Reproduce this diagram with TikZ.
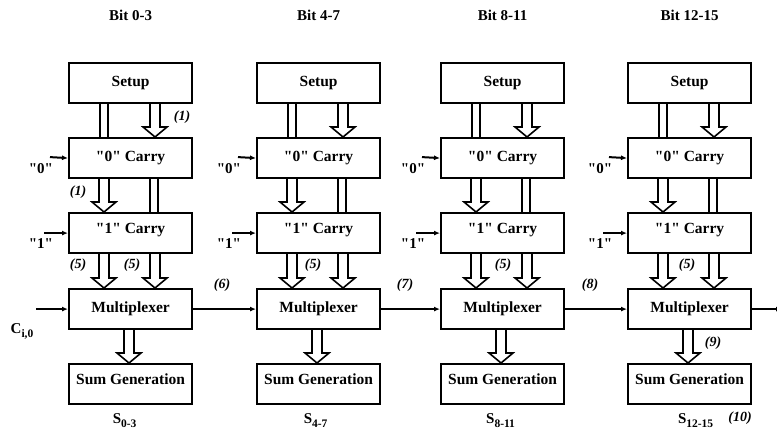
\documentclass[tikz,border=0pt]{standalone}
\usepackage{fontspec}
\setmainfont[Ligatures=TeXOff]{Liberation Serif}
\usetikzlibrary{calc,arrows.meta}
\newcommand\dq{\char34\relax}
\newcommand\mysub[1]{\raisebox{-4pt}{\fontsize{11.5}{12}\selectfont #1}}
\tikzset{
  blk/.style={draw, line width=2.2pt, minimum width=123pt, minimum height=40pt,
    inner sep=0pt, anchor=north west, font=\bfseries\fontsize{15.5}{18}\selectfont},
  upper/.style={text depth=9pt},
  lbl/.style={font=\bfseries\itshape\fontsize{14}{16}\selectfont, inner sep=0pt},
  ttl/.style={font=\bfseries\fontsize{15}{18}\selectfont, inner sep=0pt},
  busline/.style={line width=1.6pt, fill=white, line join=miter},
  barline/.style={line width=2pt},
  wire/.style={line width=1.4pt, -{Latex[length=6pt,width=5pt]}},
  inwire/.style={line width=2pt, -{Latex[length=6pt,width=5pt]}},
}
\newcommand\busarr[3]{%
  \draw[busline] let \p1=($(#1.south west)+(#3,0)$), \p2=($(#2.north west)+(#3,0)$) in
    (\x1-5pt,\y1) -- (\x1-5pt,\y2+10pt) -- (\x1-12pt,\y2+10pt) -- (\x1,\y2)
    -- (\x1+12pt,\y2+10pt) -- (\x1+5pt,\y2+10pt) -- (\x1+5pt,\y1);}
\newcommand\busbar[3]{%
  \draw[barline] let \p1=($(#1.south west)+(#3,0)$), \p2=($(#2.north west)+(#3,0)$) in
    (\x1-4pt,\y1) -- (\x1-4pt,\y2) (\x1+4pt,\y1) -- (\x1+4pt,\y2);}
\begin{document}
\begin{tikzpicture}[x=1pt,y=-1pt]
\useasboundingbox (0,0) rectangle (777,436);
\foreach \i/\lx/\bit/\sumlbl/\sdx in {1/68/0-3/0-3/-6,2/256/4-7/4-7/-3,3/440/8-11/8-11/-2,4/627/12-15/12-15/6}{
  \node[blk] (s\i) at (\lx,62) {Setup};
  \node[blk] (z\i) at (\lx,137) {\dq0\dq{} Carry};
  \node[blk,upper] (o\i) at (\lx,212) {\dq1\dq{} Carry};
  \node[blk] (m\i) at (\lx,288) {Multiplexer};
  \node[blk,upper] (g\i) at (\lx,363) {Sum Generation};
  \node[ttl] (t\i) at ($(s\i.north)+(0,-47)$) {Bit \bit};
  \node[ttl] (r\i) at ($(g\i.south)+(\sdx,15)$) {S\mysub{\sumlbl}};
  \busbar{s\i}{z\i}{36}
  \busarr{s\i}{z\i}{87}
  \busarr{z\i}{o\i}{36}
  \busbar{z\i}{o\i}{86}
  \busarr{o\i}{m\i}{36}
  \busarr{o\i}{m\i}{87}
  \busarr{m\i}{g\i}{61}
  \coordinate (zin\i) at ($(z\i.west)+(-18,-1)$);
  \coordinate (oin\i) at ($(o\i.west)+(-24,0)$);
  \node[ttl] (zt\i) at ($(z\i.west)+(-27,10)$) {\dq0\dq};
  \node[ttl] (ot\i) at ($(o\i.west)+(-27,10)$) {\dq1\dq};
  \draw[inwire] (zin\i) -- (z\i.west);
  \draw[inwire] (oin\i) -- (o\i.west);
}
% carry chain
\coordinate (cin) at ($(m1.west)+(-32,0)$);
\coordinate (cout) at ($(m4.east)+(30,0)$);
\node[ttl] (cil) at (22,331) {C\mysub{i,0}};
\draw[wire] (cin) -- (m1.west);
\draw[wire] (m1.east) -- (m2.west);
\draw[wire] (m2.east) -- (m3.west);
\draw[wire] (m3.east) -- (m4.west);
\draw[wire] (m4.east) -- (cout);
% labels
\node[lbl] (l1a) at (182,117) {(1)};
\node[lbl] (l1b) at (78,192) {(1)};
\node[lbl] (l5a) at (78,265) {(5)};
\node[lbl] (l5b) at (132,265) {(5)};
\node[lbl] (l5c) at (313,265) {(5)};
\node[lbl] (l5d) at (503,265) {(5)};
\node[lbl] (l5e) at (687,265) {(5)};
\node[lbl] (l6) at (222,285) {(6)};
\node[lbl] (l7) at (405,285) {(7)};
\node[lbl] (l8) at (590,285) {(8)};
\node[lbl] (l9) at (713,343) {(9)};
\node[lbl] (l10) at (740,418) {(10)};
\end{tikzpicture}
\end{document}
